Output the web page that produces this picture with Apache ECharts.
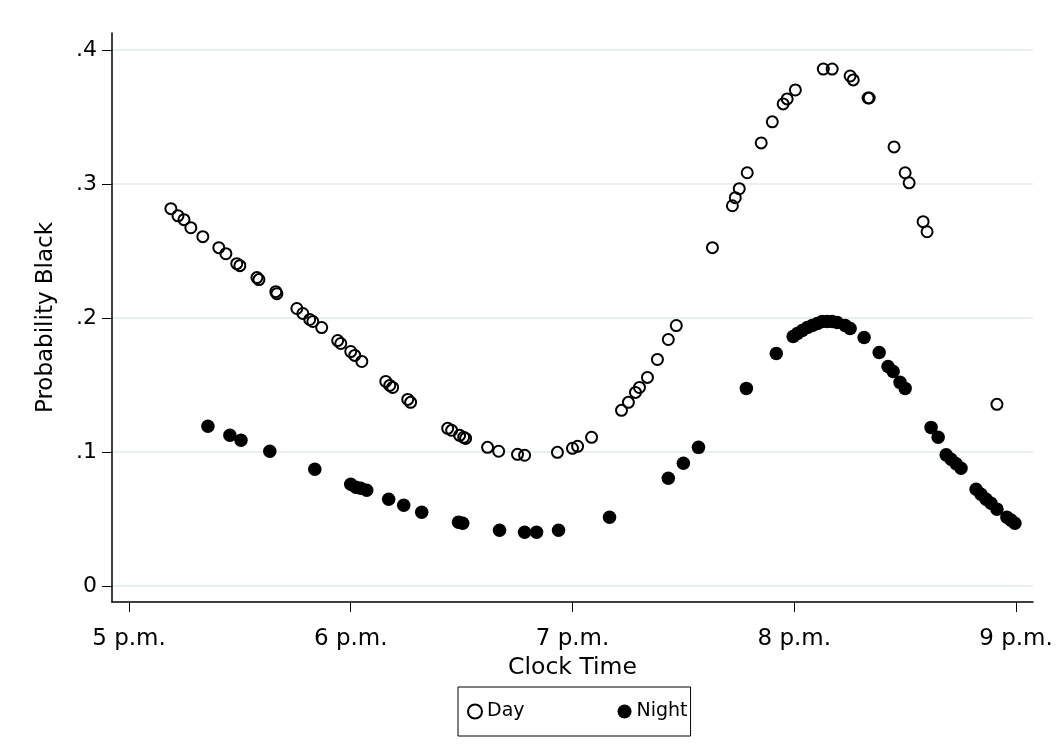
<!DOCTYPE html>
<html>
<head>
<meta charset="utf-8">
<script src="https://cdn.jsdelivr.net/npm/echarts@6/dist/echarts.min.js"></script>
<style>
  html, body { margin: 0; padding: 0; background: #fff; }
  #chart { width: 1056px; height: 755px; }
</style>
</head>
<body>
<div id="chart"></div>
<script>
// Clock time in decimal hours (17 = 5 p.m.)
const dayTime = [17.189,17.221,17.248,17.279,17.333,17.405,17.437,17.486,17.500,17.577,17.586,17.662,17.667,17.757,17.784,17.815,17.829,17.869,17.941,17.955,18.000,18.018,18.050,18.158,18.176,18.189,18.257,18.270,18.437,18.455,18.491,18.509,18.518,18.617,18.667,18.752,18.784,18.932,19.000,19.023,19.086,19.221,19.252,19.284,19.302,19.338,19.383,19.432,19.468,19.631,19.721,19.734,19.752,19.788,19.851,19.901,19.950,19.968,20.005,20.131,20.171,20.252,20.266,20.333,20.338,20.450,20.500,20.518,20.581,20.599,20.914];
const dayProb = [0.2816,0.2763,0.2734,0.2674,0.2607,0.2525,0.2480,0.2406,0.2391,0.2302,0.2287,0.2197,0.2182,0.2071,0.2034,0.1989,0.1974,0.1929,0.1832,0.1810,0.1750,0.1721,0.1676,0.1527,0.1497,0.1482,0.1393,0.1371,0.1177,0.1162,0.1125,0.1110,0.1102,0.1035,0.1006,0.0983,0.0976,0.0998,0.1028,0.1043,0.1110,0.1311,0.1371,0.1445,0.1482,0.1557,0.1691,0.1840,0.1944,0.2525,0.2838,0.2898,0.2965,0.3084,0.3307,0.3464,0.3598,0.3635,0.3702,0.3858,0.3858,0.3806,0.3777,0.3642,0.3642,0.3277,0.3084,0.3009,0.2719,0.2644,0.1356];

const nightTime = [17.356,17.455,17.505,17.635,17.838,18.000,18.023,18.045,18.072,18.171,18.239,18.320,18.486,18.505,18.671,18.784,18.838,18.937,19.167,19.432,19.500,19.568,19.784,19.919,19.995,20.014,20.036,20.059,20.081,20.104,20.126,20.149,20.171,20.194,20.230,20.252,20.315,20.383,20.423,20.446,20.477,20.500,20.617,20.649,20.685,20.707,20.730,20.752,20.820,20.842,20.865,20.887,20.914,20.959,20.977,20.995];
const nightProb = [0.1192,0.1125,0.1088,0.1006,0.0872,0.0760,0.0737,0.0730,0.0715,0.0648,0.0603,0.0551,0.0477,0.0469,0.0417,0.0402,0.0402,0.0417,0.0514,0.0804,0.0916,0.1035,0.1475,0.1736,0.1862,0.1885,0.1907,0.1929,0.1944,0.1959,0.1974,0.1974,0.1974,0.1966,0.1944,0.1922,0.1855,0.1743,0.1639,0.1601,0.1520,0.1475,0.1184,0.1110,0.0979,0.0946,0.0912,0.0879,0.0723,0.0685,0.0648,0.0618,0.0574,0.0514,0.0492,0.0469];

const xTicks = [17, 18, 19, 20, 21];
const yTicks = [0, 0.1, 0.2, 0.3, 0.4];

const FONT = 'DejaVu Sans';

const chart = echarts.init(document.getElementById('chart'), null, { renderer: 'canvas' });

const zip = (a, b) => a.map((v, i) => [v, b[i]]);

chart.setOption({
  backgroundColor: '#ffffff',
  animation: false,
  textStyle: { fontFamily: FONT },
  grid: { left: 112, right: 23, top: 33, bottom: 153, containLabel: false },
  xAxis: {
    type: 'value',
    min: 16.9234,
    max: 21.0766,
    name: 'Clock Time',
    nameLocation: 'middle',
    nameGap: 43,
    nameTextStyle: { fontFamily: FONT, fontSize: 23.5, color: '#000' },
    axisLine: { show: true, onZero: false, lineStyle: { color: '#000', width: 1.5 } },
    axisTick: { show: true, length: 10, inside: false, customValues: xTicks, lineStyle: { color: '#000', width: 1 } },
    axisLabel: {
      customValues: xTicks,
      margin: 26,
      fontFamily: FONT, fontSize: 23, color: '#000',
      formatter: v => (Math.round(v) - 12) + ' p.m.'
    },
    splitLine: { show: false }
  },
  yAxis: {
    type: 'value',
    min: -0.0119,
    max: 0.4127,
    name: 'Probability Black',
    nameLocation: 'middle',
    nameGap: 54,
    nameRotate: 90,
    nameTextStyle: { fontFamily: FONT, fontSize: 23, color: '#000' },
    axisLine: { show: true, onZero: false, lineStyle: { color: '#000', width: 1.5 } },
    axisTick: { show: true, length: 10, inside: false, customValues: yTicks, lineStyle: { color: '#000', width: 1 } },
    axisLabel: {
      customValues: yTicks,
      margin: 15,
      fontFamily: FONT, fontSize: 22, color: '#000',
      formatter: v => { const r = Math.round(v * 10); return r === 0 ? '0' : '.' + r; }
    },
    splitLine: { show: false }
  },
  legend: {
    left: 458,
    top: 687,
    orient: 'horizontal',
    borderColor: '#000',
    borderWidth: 1,
    padding: [15, 3, 15, 9],
    itemGap: 93,
    itemWidth: 14,
    itemHeight: 14,
    textStyle: { fontFamily: FONT, fontSize: 19, color: '#000' },
    data: ['Day', 'Night']
  },
  series: [
    {
      name: 'grid',
      type: 'line',
      data: [],
      z: 0,
      silent: true,
      markLine: {
        silent: true,
        z: 0,
        symbol: 'none',
        label: { show: false },
        emphasis: { disabled: true },
        lineStyle: { color: '#e8f0f2', width: 2, type: 'solid' },
        data: yTicks.map(v => ({ yAxis: v }))
      }
    },
    {
      name: 'Day',
      type: 'scatter',
      symbol: 'circle',
      symbolSize: 11,
      z: 3,
      itemStyle: { color: 'rgba(0,0,0,0)', borderColor: '#000', borderWidth: 2, opacity: 1 },
      data: zip(dayTime, dayProb)
    },
    {
      name: 'Night',
      type: 'scatter',
      symbol: 'circle',
      symbolSize: 13.5,
      z: 3,
      itemStyle: { color: '#000', borderWidth: 0, opacity: 1 },
      data: zip(nightTime, nightProb)
    }
  ]
});
</script>
</body>
</html>
